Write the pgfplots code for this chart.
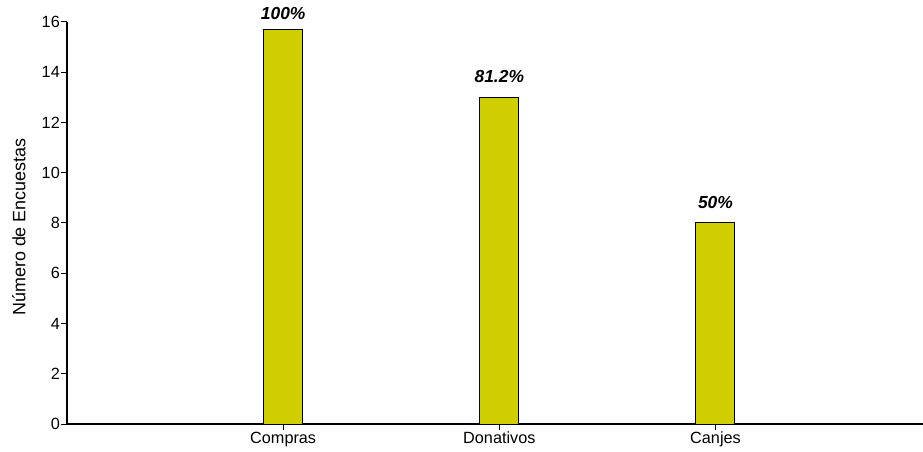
\documentclass[border=0pt]{standalone}
\usepackage{pgfplots}
\pgfplotsset{compat=1.18}
\usepackage{fontspec}
\setmainfont{Liberation Sans}
\definecolor{barcol}{RGB}{206,206,0}
\begin{document}
\begin{tikzpicture}
\begin{axis}[
  at={(0,0)}, anchor=south west,
  scale only axis,
  width=856bp, height=402bp,
  xmin=0, xmax=3.96, ymin=0, ymax=16,
  axis x line=bottom, axis y line=left,
  axis line style={-, line width=1.1bp},
  xtick={1,2,3},
  xticklabels={Compras,Donativos,Canjes},
  ytick={0,2,...,16},
  tick align=outside,
  major tick length=6bp,
  tick style={line width=1bp, black},
  /pgf/number format/assume math mode=true,
  every tick label/.style={font=\fontsize{16.3}{19}\selectfont},
  yticklabel style={inner sep=1bp},
  xticklabel style={inner sep=2bp},
  ylabel={Número de Encuestas},
  ylabel style={font=\fontsize{18}{21}\selectfont, at={(axis description cs:-0.0561,0.49)}, anchor=center, rotate=0},
  clip=false,
  point meta=explicit symbolic,
]
\addplot[ybar, bar shift=0pt, bar width=39bp, fill=barcol, draw=black, line width=1bp,
  nodes near coords,
  every node near coord/.style={font=\fontsize{17.5}{20}\selectfont\bfseries\itshape, anchor=south, inner sep=0pt, yshift=9bp}]
  coordinates {(1,15.7) [100\%]};
\addplot[ybar, bar shift=0pt, bar width=39bp, fill=barcol, draw=black, line width=1bp,
  nodes near coords,
  every node near coord/.style={font=\fontsize{17.5}{20}\selectfont\bfseries\itshape, anchor=south, inner sep=0pt, yshift=14bp}]
  coordinates {(2,13) [81.2\%] (3,8) [50\%]};
\end{axis}
\pgfresetboundingbox
\path (-67bp,-28bp) rectangle (856bp,424bp);
\end{tikzpicture}
\end{document}
